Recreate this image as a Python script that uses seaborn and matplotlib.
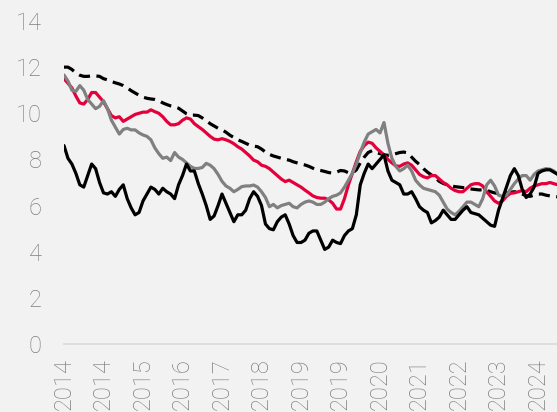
import matplotlib
matplotlib.use("Agg")
import numpy as np
import pandas as pd
import seaborn as sns
import matplotlib.pyplot as plt

# monthly values, Jan 2014 onwards
dashed_black = [
    12.0, 12.0, 11.9, 11.75, 11.65, 11.6, 11.6, 11.62, 11.62, 11.6,
    11.5, 11.45, 11.38, 11.32, 11.27, 11.2, 11.1, 10.98, 10.88, 10.78,
    10.7, 10.65, 10.62, 10.6, 10.55, 10.45, 10.38, 10.32, 10.28, 10.22,
    10.1, 9.98, 9.92, 9.92, 9.9, 9.8, 9.68, 9.55, 9.45, 9.35,
    9.28, 9.18, 9.05, 8.95, 8.85, 8.78, 8.7, 8.62, 8.58, 8.55,
    8.45, 8.32, 8.22, 8.15, 8.1, 8.05, 8.0, 7.97, 7.9, 7.85,
    7.8, 7.76, 7.7, 7.62, 7.55, 7.52, 7.48, 7.43, 7.41, 7.45,
    7.52, 7.5, 7.42, 7.4, 7.55, 7.85, 8.1, 8.3, 8.38, 8.3,
    8.25, 8.2, 8.18, 8.2, 8.25, 8.3, 8.32, 8.28, 8.1, 7.92,
    7.78, 7.6, 7.45, 7.33, 7.2, 7.05, 6.96, 6.9, 6.85, 6.82,
    6.8, 6.78, 6.75, 6.72, 6.7, 6.68, 6.68, 6.66, 6.6, 6.55,
    6.52, 6.52, 6.55, 6.58, 6.6, 6.58, 6.5, 6.42, 6.4, 6.45,
    6.5, 6.5, 6.45, 6.42, 6.4, 6.38,
]
red = [
    11.5, 11.3, 11.1, 10.75, 10.45, 10.4, 10.6, 10.9, 10.9, 10.7,
    10.5, 10.2, 9.9, 9.8, 9.85, 9.65, 9.75, 9.85, 9.95, 10.0,
    10.05, 10.05, 10.15, 10.07, 10.0, 9.85, 9.65, 9.5, 9.5, 9.55,
    9.7, 9.8, 9.75, 9.55, 9.42, 9.3, 9.15, 9.0, 8.88, 8.85,
    8.9, 8.85, 8.78, 8.68, 8.55, 8.45, 8.3, 8.15, 7.97, 7.9,
    7.75, 7.7, 7.6, 7.45, 7.3, 7.15, 7.04, 7.1, 7.0, 6.9,
    6.8, 6.67, 6.55, 6.42, 6.35, 6.32, 6.32, 6.25, 6.1, 5.85,
    5.85, 6.3, 6.9, 7.4, 7.9, 8.35, 8.6, 8.75, 8.7, 8.5,
    8.35, 8.2, 8.0, 7.85, 7.72, 7.7, 7.8, 7.85, 7.75, 7.55,
    7.35, 7.25, 7.2, 7.3, 7.3, 7.15, 7.0, 6.9, 6.75, 6.65,
    6.6, 6.6, 6.75, 6.9, 6.95, 6.95, 6.85, 6.6, 6.4, 6.2,
    6.1, 6.2, 6.4, 6.53, 6.55, 6.6, 6.65, 6.6, 6.75, 6.85,
    6.9, 6.95, 6.95, 7.0, 6.95, 6.9,
]
gray = [
    11.66, 11.4, 11.0, 10.95, 11.2, 11.0, 10.6, 10.4, 10.2, 10.3,
    10.55, 10.2, 9.7, 9.4, 9.1, 9.3, 9.35, 9.28, 9.28, 9.15,
    9.06, 9.0, 8.85, 8.5, 8.25, 8.05, 8.1, 7.95, 8.3, 8.1,
    8.0, 7.85, 7.7, 7.61, 7.61, 7.65, 7.83, 7.75, 7.6, 7.35,
    7.05, 6.85, 6.75, 6.6, 6.7, 6.82, 6.85, 6.85, 6.89, 6.8,
    6.6, 6.35, 5.95, 6.05, 5.9, 6.0, 6.05, 6.1, 5.95, 5.9,
    6.05, 6.15, 6.2, 6.15, 6.05, 6.05, 6.15, 6.3, 6.4, 6.45,
    6.55, 6.8, 7.1, 7.4, 7.8, 8.3, 8.75, 9.1, 9.2, 9.3,
    9.15, 9.6, 8.7, 8.05, 7.7, 7.5, 7.6, 7.75, 7.5, 7.1,
    6.9, 6.75, 6.7, 6.65, 6.6, 6.45, 6.15, 5.85, 5.7, 5.6,
    5.75, 5.95, 6.15, 6.15, 6.05, 5.95, 6.3, 6.9, 7.1, 6.85,
    6.45, 6.4, 6.45, 6.7, 6.95, 7.15, 7.3, 7.3, 7.1, 7.35,
    7.5, 7.55, 7.6, 7.58, 7.5, 7.35,
]
black = [
    8.6, 8.05, 7.8, 7.4, 6.9, 6.8, 7.3, 7.8, 7.6, 7.0,
    6.55, 6.5, 6.6, 6.4, 6.7, 6.9, 6.3, 5.9, 5.6, 5.7,
    6.2, 6.5, 6.8, 6.7, 6.5, 6.75, 6.6, 6.5, 6.3, 6.9,
    7.3, 7.8, 7.5, 7.5, 6.95, 6.5, 6.0, 5.4, 5.55, 6.0,
    6.5, 6.1, 5.7, 5.3, 5.6, 5.6, 5.8, 6.3, 6.6, 6.4,
    6.0, 5.2, 5.0, 4.95, 5.3, 5.5, 5.6, 5.2, 4.7, 4.4,
    4.4, 4.5, 4.8, 4.9, 4.9, 4.5, 4.1, 4.2, 4.5, 4.4,
    4.35, 4.7, 4.9, 5.0, 5.6, 6.9, 7.4, 7.8, 7.6, 7.8,
    8.0, 8.2, 7.5, 7.1, 7.0, 6.9, 6.5, 6.5, 6.6, 6.3,
    5.95, 5.8, 5.7, 5.25, 5.35, 5.5, 5.8, 5.6, 5.4, 5.4,
    5.6, 5.8, 5.95, 5.7, 5.65, 5.6, 5.45, 5.3, 5.15, 5.1,
    5.8, 6.3, 6.8, 7.3, 7.6, 7.3, 6.7, 6.35, 6.5, 6.8,
    7.4, 7.5, 7.55, 7.55, 7.45, 7.35,
]

tick_pos = [0, 10, 20, 30, 40, 50, 60, 70, 80, 90, 100, 110, 120]
tick_labels = ["2014", "2014", "2015", "2016", "2017", "2018", "2019",
               "2019", "2020", "2021", "2022", "2023", "2024"]

series = {"dashed": dashed_black, "red": red, "gray": gray, "black": black}
frames = []
for name, vals in series.items():
    frames.append(pd.DataFrame({"month": np.arange(len(vals)), "value": vals, "series": name}))
df = pd.concat(frames, ignore_index=True)

sns.set_style("white")
plt.rcParams["font.family"] = ["Roboto", "DejaVu Sans"]

bg = "#f2f2f2"
fig = plt.figure(figsize=(5.57, 4.12), dpi=100, facecolor=bg)
ax = fig.add_axes([64 / 557, 68 / 412, 1 - 64 / 557, 323 / 412])
ax.set_facecolor(bg)

palette = {"dashed": "black", "red": "#e4003b", "gray": "#808080", "black": "black"}
dashes = {"dashed": (3.5, 2), "red": "", "gray": "", "black": ""}
sns.lineplot(data=df, x="month", y="value", hue="series", style="series",
             hue_order=list(series), style_order=list(series),
             palette=palette, dashes=dashes, linewidth=2.3, legend=False, ax=ax)

ax.set_xlim(0, 124.8)
ax.set_ylim(0, 14)
ax.set_yticks(range(0, 15, 2))
ax.set_xticks(tick_pos)
ax.set_xticklabels(tick_labels, rotation=90)
ax.set_xlabel("")
ax.set_ylabel("")

for s in ["left", "top", "right"]:
    ax.spines[s].set_visible(False)
ax.spines["bottom"].set_color("#d9d9d9")
ax.spines["bottom"].set_linewidth(1.2)

ax.tick_params(axis="both", length=0, labelsize=17, labelcolor="#7f7f7f")
ax.tick_params(axis="y", pad=16)
ax.tick_params(axis="x", pad=10)
for lab in ax.get_xticklabels() + ax.get_yticklabels():
    lab.set_fontweight("light")

fig.savefig("out.png", dpi=100, facecolor=bg)
